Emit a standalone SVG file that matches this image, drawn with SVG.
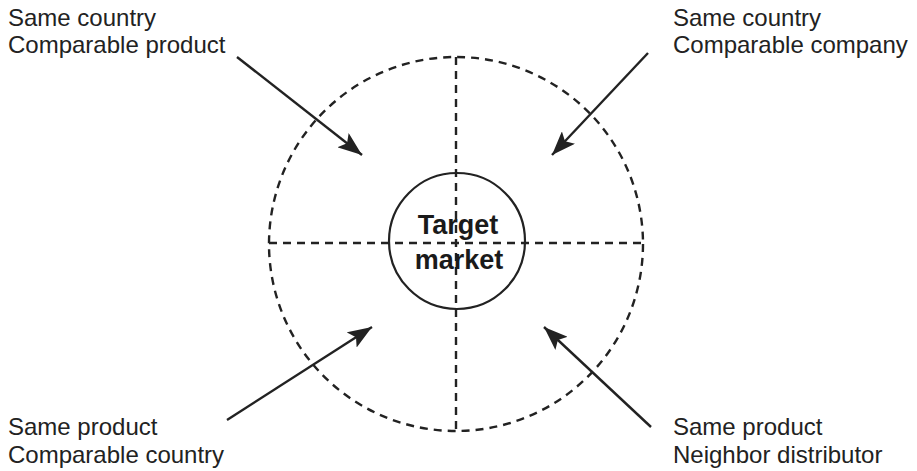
<svg xmlns="http://www.w3.org/2000/svg" width="917" height="471" viewBox="0 0 917 471">
<defs>
<style>
.lbl{font-family:"Liberation Sans",Arial,sans-serif;font-size:24px;fill:#222}
.ctr{font-family:"Liberation Sans",Arial,sans-serif;font-size:27px;font-weight:bold;fill:#1a1a1a;text-anchor:middle}
.dash{fill:none;stroke:#222;stroke-width:2.4;stroke-dasharray:8 6}
.arr{stroke:#222;stroke-width:2.4;fill:none;marker-end:url(#ah)}
</style>
<marker id="ah" markerUnits="userSpaceOnUse" markerWidth="26" markerHeight="18" refX="24" refY="9" orient="auto">
<path d="M0,0 L24,9 L0,18 L5,9 Z" fill="#222"/>
</marker>
</defs>
<rect width="917" height="471" fill="#fff"/>
<g id="outer">
<circle class="dash" cx="456" cy="244" r="187"/>
<line class="dash" x1="456" y1="57" x2="456" y2="431"/>
<line class="dash" x1="269" y1="243" x2="643" y2="243"/>
</g>
<g id="target">
<circle cx="457" cy="241" r="68" fill="none" stroke="#222" stroke-width="2.2"/>
<text class="ctr" x="458" y="234">Target</text>
<text class="ctr" x="459" y="269">market</text>
</g>
<g id="connectors">
<line class="arr" x1="237" y1="57" x2="362" y2="155"/>
<line class="arr" x1="648" y1="53" x2="552" y2="155"/>
<line class="arr" x1="227" y1="420" x2="372" y2="327"/>
<line class="arr" x1="651" y1="427" x2="544" y2="327"/>
</g>
<g id="tl"><text class="lbl" x="8" y="26">Same country</text><text class="lbl" x="8" y="53">Comparable product</text></g>
<g id="tr"><text class="lbl" x="673" y="26">Same country</text><text class="lbl" x="673" y="53">Comparable company</text></g>
<g id="bl"><text class="lbl" x="8" y="435">Same product</text><text class="lbl" x="8" y="463">Comparable country</text></g>
<g id="br"><text class="lbl" x="673" y="435">Same product</text><text class="lbl" x="673" y="463">Neighbor distributor</text></g>
</svg>
